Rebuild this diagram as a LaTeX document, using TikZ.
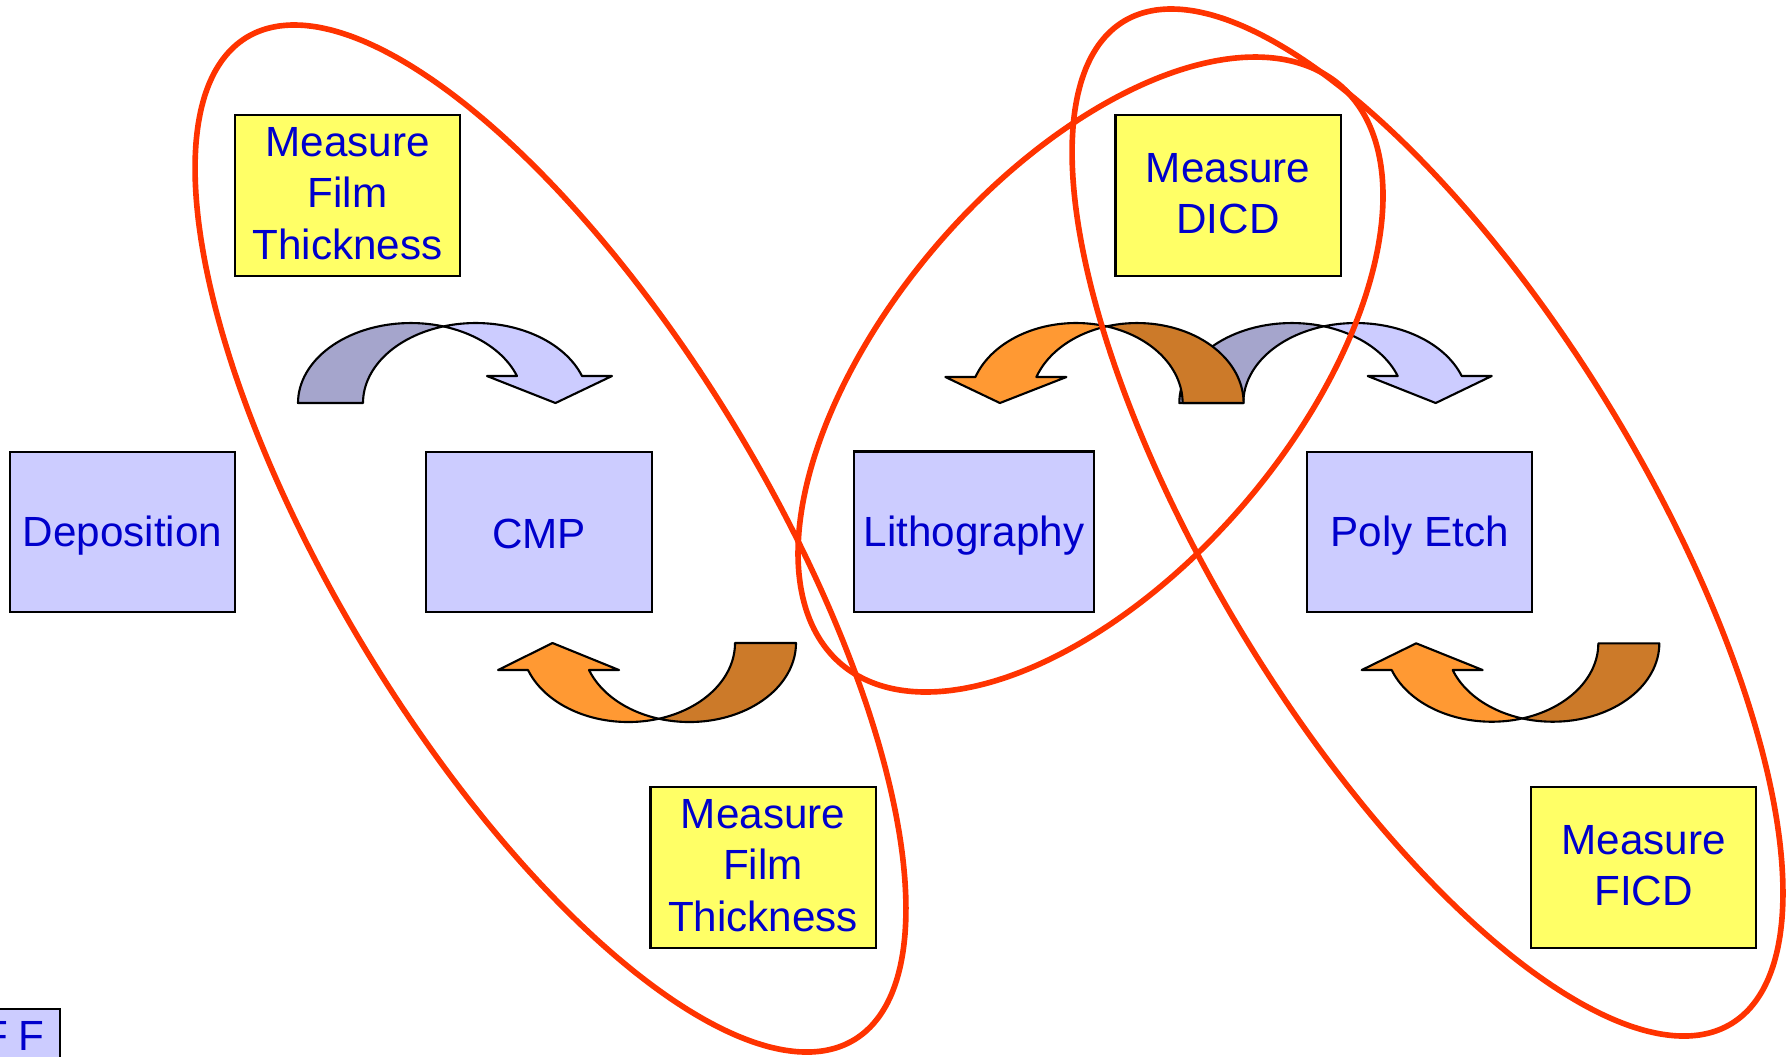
\documentclass[tikz,border=0pt]{standalone}
\usepackage{fontspec}
\setmainfont{Liberation Sans}

\definecolor{lilac}{HTML}{CCCCFF}
\definecolor{lemon}{HTML}{FFFF66}
\definecolor{textblue}{HTML}{0000CC}
\definecolor{ringred}{HTML}{FF3300}
\definecolor{purpleback}{HTML}{A5A5CC}
\definecolor{purplefront}{HTML}{CCCCFF}
\definecolor{orangeback}{HTML}{CC7A29}
\definecolor{orangefront}{HTML}{FF9933}

% invisible struts that fix where the lines sit in their box
\newcommand\ls{\rule[-0.1em]{0pt}{1em}}
\newcommand\lstop{\rule[-0.1em]{0pt}{1.2em}}

% Curved block arrow made of two equal ellipses shifted by the band width.
% #1,#2 base corner of the back band, #3 xscale, #4 yscale,
% #5 x radius, #6 y radius, #7 band width, #8 height of the arrow head base,
% #9 colour family (back / front)
\newcommand\bentarrow[9]{%
  \begin{scope}[shift={(#1,#2)}, xscale=#3, yscale=#4]
    \pgfmathsetmacro\arA{acos(#7/(2*#5))}
    \pgfmathsetmacro\arB{180-\arA}
    \pgfmathsetmacro\arE{asin(#8/#6)}
    \pgfmathsetmacro\arIn{#5+#5*cos(\arE)}
    \pgfmathsetmacro\arOut{\arIn+#7}
    \pgfmathsetmacro\arTip{(\arIn+\arOut)/2+6}
    % back band
    \path[arrowline, fill=#9back]
      plot[domain=180:\arA, samples=40] ({#5+#5*cos(\x)},{#6*sin(\x)})
      -- plot[domain=\arB:180, samples=40] ({#5+#7+#5*cos(\x)},{#6*sin(\x)})
      -- cycle;
    % front band with its head
    \path[arrowline, fill=#9front]
      plot[domain=\arB:\arE, samples=40] ({#5+#7+#5*cos(\x)},{#6*sin(\x)})
      -- (\arOut+30,#8) -- (\arTip,0) -- (\arIn-30,#8)
      -- plot[domain=\arE:\arA, samples=40] ({#5+#5*cos(\x)},{#6*sin(\x)})
      -- cycle;
  \end{scope}}

% Tilted ellipse: centre #1,#2, semi-axes #3,#4, turn #5
\newcommand\groupring[5]{%
  \draw[ringline] plot[domain=0:357, samples=120, smooth cycle]
    ({#1+#3*cos(\x)*cos(#5)-#4*sin(\x)*sin(#5)},
     {#2+#3*cos(\x)*sin(#5)+#4*sin(\x)*cos(#5)});}

\tikzset{
  basebox/.style={draw=black, line width=0.6pt, text=textblue, align=center,
    inner sep=0pt, font=\fontsize{12}{14.7}\selectfont},
  procbox/.style={basebox, fill=lilac, minimum width=2.25cm, minimum height=1.6cm,
    execute at begin node=\ls, execute at end node=\ls},
  measbox/.style={basebox, fill=lemon, minimum width=2.25cm, minimum height=1.61cm,
    execute at begin node=\lstop, execute at end node=\ls},
  ffbox/.style={basebox, fill=lilac, minimum width=0.934cm,
    text height=0.407cm, text depth=0.25cm},
  arrowline/.style={draw=black, line width=0.6pt, line join=round},
  ringline/.style={draw=ringred, line width=1.6pt},
}

\begin{document}
\begin{tikzpicture}[x=0.01cm, y=-0.01cm]
  \useasboundingbox (0,0) rectangle (1789,1056);
  \fill[white] (0,0) rectangle (1789,1056);
  \clip (0,0) rectangle (1789,1056);

  % process steps
  \node[procbox] (dep) at (122.5,532) {Deposition};
  \node[procbox] (cmp) at (539,532) {CMP};
  \node[procbox, minimum width=2.4cm] (litho) at (974,531.5) {Lithography};
  \node[procbox] (poly) at (1419.5,532) {Poly Etch};

  % metrology steps
  \node[measbox] (mft1) at (347.5,195.5) {Measure\\Film\\Thickness};
  \node[measbox] (dicd) at (1228,195.5) {Measure\\DICD};
  \node[measbox] (mft2) at (763,867.5) {Measure\\Film\\Thickness};
  \node[measbox] (ficd) at (1643.5,867.5) {Measure\\FICD};

  % partly hidden box in the corner
  \node[ffbox, anchor=base] (ff) at (13.3,1050) {F\kern0.1cm F};

  % curved block arrows
  \bentarrow{298}{403}{1}{-1}{112.8}{80}{65}{27}{purple}
  \bentarrow{796}{643}{-1}{1}{106.7}{79}{61}{27}{orange}
  \bentarrow{1179.3}{403}{1}{-1}{112.5}{80}{64}{27}{purple}
  \bentarrow{1243.6}{403}{-1}{-1}{106.5}{80}{61}{26}{orange}
  \bentarrow{1659.3}{643.3}{-1}{1}{106.5}{78.4}{61}{26.7}{orange}

  % loops grouping each tool with its metrology
  \groupring{550.5}{538.5}{586.1}{215.8}{58.78}
  \groupring{1427.5}{522.5}{586.1}{215.8}{58.78}
  \groupring{1090.5}{374.5}{382.1}{200.9}{-49.15}
\end{tikzpicture}
\end{document}
